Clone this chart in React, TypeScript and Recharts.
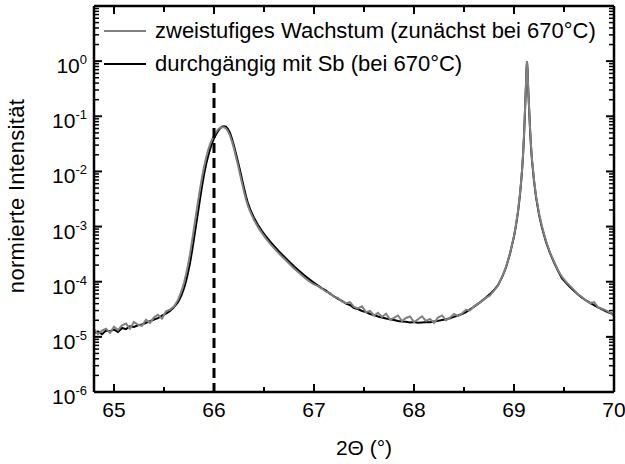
import React from 'react';
import { LineChart, Line, XAxis, YAxis, ReferenceLine, Legend, Label } from 'recharts';

// 2Θ positions (°)
const twoTheta = [
  64.80, 64.84, 64.88, 64.92, 64.96, 65.00, 65.04, 65.08, 65.12, 65.16, 65.20, 65.24, 65.28, 65.32, 65.36, 65.40, 65.44, 65.48, 65.52, 65.56, 65.60, 65.64,
  65.66, 65.68, 65.70, 65.72, 65.74, 65.76, 65.78, 65.80, 65.82, 65.84, 65.86, 65.88, 65.90, 65.92, 65.94, 65.96, 65.98, 66.00, 66.02, 66.04, 66.06, 66.08, 66.10, 66.12, 66.14, 66.16, 66.18, 66.20, 66.22, 66.24, 66.26, 66.28, 66.30, 66.32, 66.34, 66.36, 66.38, 66.40,
  66.44, 66.48, 66.52, 66.56, 66.60, 66.65, 66.70, 66.75, 66.80, 66.85, 66.90, 66.95, 67.00,
  67.04, 67.08, 67.12, 67.16, 67.20, 67.24, 67.28, 67.32, 67.36, 67.40, 67.44, 67.48, 67.52, 67.56, 67.60, 67.64, 67.68, 67.72, 67.76, 67.80, 67.84, 67.88, 67.92, 67.96, 68.00, 68.04, 68.08, 68.12, 68.16, 68.20, 68.24, 68.28, 68.32, 68.36, 68.40, 68.44, 68.48, 68.52, 68.56, 68.60,
  68.64, 68.68, 68.72, 68.76, 68.80, 68.84, 68.88, 68.92, 68.96, 69.00, 69.02, 69.04, 69.06, 69.07, 69.08, 69.09, 69.10, 69.11, 69.12, 69.125, 69.13, 69.135, 69.14, 69.15, 69.16, 69.17, 69.18, 69.20, 69.22, 69.25, 69.28, 69.32, 69.36, 69.40, 69.44,
  69.48, 69.52, 69.56, 69.60, 69.64, 69.68, 69.72, 69.76, 69.80, 69.84, 69.88, 69.92, 69.96, 70.00,
];

// zweistufiges Wachstum (grey)
const zweistufig = [
  1.38e-5, 1.12e-5, 1.30e-5, 1.41e-5, 1.18e-5, 1.52e-5, 1.33e-5, 1.62e-5, 1.74e-5, 1.40e-5, 1.86e-5, 1.66e-5, 1.58e-5, 2.04e-5, 1.78e-5, 2.26e-5, 2.52e-5, 2.14e-5, 2.90e-5, 3.12e-5, 3.56e-5, 4.68e-5,
  5.75e-5, 7.24e-5, 9.55e-5, 1.35e-4, 2.00e-4, 3.16e-4, 5.37e-4, 9.33e-4, 1.62e-3, 2.82e-3, 4.79e-3, 7.76e-3, 1.20e-2, 1.74e-2, 2.40e-2, 3.09e-2, 3.80e-2, 4.47e-2, 5.13e-2, 5.75e-2, 6.17e-2, 6.31e-2, 6.31e-2, 6.03e-2, 5.37e-2, 4.47e-2, 3.47e-2, 2.57e-2, 1.82e-2, 1.29e-2, 8.91e-3, 6.17e-3, 4.27e-3, 3.09e-3, 2.34e-3, 1.91e-3, 1.58e-3, 1.32e-3,
  9.77e-4, 7.59e-4, 6.03e-4, 4.90e-4, 4.07e-4, 3.24e-4, 2.63e-4, 2.14e-4, 1.74e-4, 1.45e-4, 1.20e-4, 1.02e-4, 8.91e-5,
  8.32e-5, 7.44e-5, 6.61e-5, 6.26e-5, 5.31e-5, 5.07e-5, 4.37e-5, 4.07e-5, 4.27e-5, 3.48e-5, 3.29e-5, 3.57e-5, 2.81e-5, 2.96e-5, 2.44e-5, 2.72e-5, 2.30e-5, 2.63e-5, 2.06e-5, 2.21e-5, 2.44e-5, 1.94e-5, 2.20e-5, 2.34e-5, 1.86e-5, 2.09e-5, 2.36e-5, 1.94e-5, 2.12e-5, 1.79e-5, 2.24e-5, 2.45e-5, 2.01e-5, 2.23e-5, 2.59e-5, 2.38e-5, 2.65e-5, 3.09e-5, 3.02e-5, 3.58e-5,
  4.01e-5, 4.47e-5, 5.11e-5, 5.63e-5, 6.92e-5, 8.52e-5, 1.22e-4, 1.85e-4, 3.27e-4, 6.72e-4, 1.10e-3, 1.91e-3, 3.98e-3, 6.31e-3, 1.05e-2, 2.00e-2, 4.57e-2, 1.32e-1, 3.98e-1, 7.24e-1, 1.0, 7.24e-1, 3.98e-1, 1.58e-1, 6.31e-2, 2.95e-2, 1.66e-2, 7.08e-3, 3.63e-3, 1.74e-3, 1.00e-3, 5.50e-4, 3.39e-4, 2.34e-4, 1.62e-4,
  1.23e-4, 1.00e-4, 8.41e-5, 7.11e-5, 5.91e-5, 5.29e-5, 4.51e-5, 4.10e-5, 4.27e-5, 3.46e-5, 3.23e-5, 3.03e-5, 2.76e-5, 2.40e-5,
];

// durchgängig mit Sb (black)
const durchgaengig = [
  1.17e-5, 1.26e-5, 1.12e-5, 1.30e-5, 1.27e-5, 1.35e-5, 1.23e-5, 1.45e-5, 1.38e-5, 1.56e-5, 1.51e-5, 1.62e-5, 1.68e-5, 1.80e-5, 1.92e-5, 2.06e-5, 2.19e-5, 2.43e-5, 2.63e-5, 2.96e-5, 3.47e-5, 4.27e-5,
  5.01e-5, 6.03e-5, 7.59e-5, 1.02e-4, 1.45e-4, 2.19e-4, 3.55e-4, 6.03e-4, 1.05e-3, 1.82e-3, 3.16e-3, 5.37e-3, 8.71e-3, 1.32e-2, 1.86e-2, 2.51e-2, 3.24e-2, 3.98e-2, 4.68e-2, 5.37e-2, 6.03e-2, 6.46e-2, 6.61e-2, 6.46e-2, 5.89e-2, 5.01e-2, 3.89e-2, 2.88e-2, 2.09e-2, 1.48e-2, 1.05e-2, 7.24e-3, 5.01e-3, 3.55e-3, 2.63e-3, 2.09e-3, 1.74e-3, 1.45e-3,
  1.07e-3, 8.32e-4, 6.61e-4, 5.37e-4, 4.47e-4, 3.55e-4, 2.88e-4, 2.34e-4, 1.91e-4, 1.58e-4, 1.32e-4, 1.12e-4, 9.55e-5,
  8.51e-5, 7.61e-5, 6.88e-5, 6.05e-5, 5.40e-5, 4.87e-5, 4.48e-5, 4.00e-5, 3.78e-5, 3.34e-5, 3.19e-5, 2.95e-5, 2.82e-5, 2.60e-5, 2.49e-5, 2.34e-5, 2.25e-5, 2.15e-5, 2.09e-5, 2.02e-5, 1.94e-5, 1.90e-5, 1.88e-5, 1.82e-5, 1.85e-5, 1.80e-5, 1.83e-5, 1.86e-5, 1.84e-5, 1.90e-5, 1.95e-5, 2.02e-5, 2.09e-5, 2.18e-5, 2.30e-5, 2.44e-5, 2.60e-5, 2.82e-5, 3.15e-5, 3.52e-5,
  3.97e-5, 4.50e-5, 5.15e-5, 5.96e-5, 7.06e-5, 8.63e-5, 1.20e-4, 1.81e-4, 3.21e-4, 6.61e-4, 1.05e-3, 1.82e-3, 3.80e-3, 6.03e-3, 1.00e-2, 1.91e-2, 4.37e-2, 1.26e-1, 3.80e-1, 7.08e-1, 9.77e-1, 7.08e-1, 3.80e-1, 1.51e-1, 6.03e-2, 2.82e-2, 1.58e-2, 6.76e-3, 3.47e-3, 1.66e-3, 9.55e-4, 5.25e-4, 3.31e-4, 2.24e-4, 1.58e-4,
  1.15e-4, 9.55e-5, 8.04e-5, 6.82e-5, 5.85e-5, 5.15e-5, 4.57e-5, 4.12e-5, 3.75e-5, 3.42e-5, 3.15e-5, 2.91e-5, 2.71e-5, 2.55e-5,
];

const seriesNames = ['zweistufiges Wachstum (zunächst bei 670°C)', 'durchgängig mit Sb (bei 670°C)'];
const seriesColors = ['#808080', '#000000'];

const xMajorTicks = [65, 66, 67, 68, 69, 70];
const xMinorTicks = [65.5, 66.5, 67.5, 68.5, 69.5];
const yMajorTicks = [1e-6, 1e-5, 1e-4, 1e-3, 1e-2, 1e-1, 1];
const yMajorExponents = ['-6', '-5', '-4', '-3', '-2', '-1', '0'];
const yMinorTicks = [
  2e-6, 3e-6, 4e-6, 5e-6, 6e-6, 7e-6, 8e-6, 9e-6,
  2e-5, 3e-5, 4e-5, 5e-5, 6e-5, 7e-5, 8e-5, 9e-5,
  2e-4, 3e-4, 4e-4, 5e-4, 6e-4, 7e-4, 8e-4, 9e-4,
  2e-3, 3e-3, 4e-3, 5e-3, 6e-3, 7e-3, 8e-3, 9e-3,
  2e-2, 3e-2, 4e-2, 5e-2, 6e-2, 7e-2, 8e-2, 9e-2,
  0.2, 0.3, 0.4, 0.5, 0.6, 0.7, 0.8, 0.9,
  2, 3, 4, 5, 6, 7, 8, 9,
];
const xDomain = [64.8, 70];
const yDomain = [1e-6, 10];
const dashedMarkerX = 66;
const dashedMarkerTop = 0.4;

const xLabel = '2Θ (°)';
const yLabel = 'normierte Intensität';

const FONT = '"Liberation Sans", Arial, Helvetica, sans-serif';

const data = twoTheta.map((x, i) => ({ x, zweistufig: zweistufig[i], durchgaengig: durchgaengig[i] }));

const MAJOR = 8;
const MINOR = 5;

const BottomTick = (props: any) => {
  const { x, y, payload } = props;
  const v = payload.value;
  const major = xMajorTicks.indexOf(v) >= 0;
  return (
    <g>
      <line x1={x} x2={x} y1={y} y2={y - (major ? MAJOR : MINOR)} stroke="#000" strokeWidth={2} />
      {major && (
        <text x={x} y={y + 25} textAnchor="middle" fontSize={21} fontFamily={FONT} fill="#000">
          {String(v)}
        </text>
      )}
      {v === xMajorTicks[2] + 0.5 && (
        <text x={x} y={y + 63} textAnchor="middle" fontSize={21} fontFamily={FONT} fill="#000">
          {xLabel}
        </text>
      )}
    </g>
  );
};

const TopTick = (props: any) => {
  const { x, y, payload } = props;
  const major = xMajorTicks.indexOf(payload.value) >= 0;
  return <line x1={x} x2={x} y1={y} y2={y + (major ? MAJOR : MINOR + 1)} stroke="#000" strokeWidth={2} />;
};

const LeftTick = (props: any) => {
  const { x, y, payload } = props;
  const idx = yMajorTicks.indexOf(payload.value);
  const major = idx >= 0;
  return (
    <g>
      <line x1={x} x2={x + (major ? MAJOR : MINOR)} y1={y} y2={y} stroke="#000" strokeWidth={major ? 2 : 1.5} />
      {major && (
        <text x={x - 7} y={y + 12} textAnchor="end" fontSize={21} fontFamily={FONT} fill="#000">
          <tspan>10</tspan>
          <tspan dy={-9} fontSize={13}>{yMajorExponents[idx]}</tspan>
        </text>
      )}
    </g>
  );
};

const RightTick = (props: any) => {
  const { x, y, payload } = props;
  const major = yMajorTicks.indexOf(payload.value) >= 0;
  return <line x1={x} x2={x - (major ? MAJOR : MINOR)} y1={y} y2={y} stroke="#000" strokeWidth={major ? 2 : 1.5} />;
};

const renderLegend = () => (
  <div style={{ fontFamily: FONT, fontSize: 22, color: '#000', whiteSpace: 'nowrap' }}>
    {seriesNames.map((name, i) => (
      <div key={name} style={{ display: 'flex', alignItems: 'center', height: 33 }}>
        <svg width={42} height={4} style={{ display: 'block' }}>
          <line x1={0} x2={42} y1={2} y2={2} stroke={seriesColors[i]} strokeWidth={2} />
        </svg>
        <span style={{ marginLeft: 9 }}>{name}</span>
      </div>
    ))}
  </div>
);

const axisLineStyle = { stroke: '#000', strokeWidth: 2.5 };

export default function App() {
  return (
    <div style={{ position: 'absolute', left: 0, top: 0, width: 625, height: 464, background: '#fff' }}>
      <LineChart width={625} height={464} data={data} margin={{ top: 5, right: 10, bottom: 71, left: 93 }}>
        <XAxis
          xAxisId="b"
          dataKey="x"
          type="number"
          domain={xDomain}
          allowDataOverflow
          ticks={[...xMajorTicks, ...xMinorTicks]}
          interval={0}
          height={1}
          tickSize={0}
          tickMargin={0}
          tickLine={false}
          axisLine={axisLineStyle}
          tick={(p: any) => <BottomTick {...p} />}
        />
        <XAxis
          xAxisId="t"
          orientation="top"
          dataKey="x"
          type="number"
          domain={xDomain}
          allowDataOverflow
          ticks={[...xMajorTicks, ...xMinorTicks]}
          interval={0}
          height={1}
          tickSize={0}
          tickMargin={0}
          tickLine={false}
          axisLine={axisLineStyle}
          tick={(p: any) => <TopTick {...p} />}
        />
        <YAxis
          yAxisId="l"
          type="number"
          scale="log"
          domain={yDomain}
          allowDataOverflow
          ticks={[...yMajorTicks, ...yMinorTicks]}
          interval={0}
          width={1}
          tickSize={0}
          tickMargin={0}
          tickLine={false}
          axisLine={axisLineStyle}
          tick={(p: any) => <LeftTick {...p} />}
        >
          <Label
            content={(p: any) => {
              const vb = p.viewBox || { x: 93, y: 6, width: 1, height: 386 };
              const cx = vb.x + vb.width - 70;
              const cy = vb.y + vb.height / 2 - 3;
              return (
                <text transform={`translate(${cx},${cy}) rotate(-90)`} textAnchor="middle" fontSize={22} letterSpacing={0.3} fontFamily={FONT} fill="#000">
                  {yLabel}
                </text>
              );
            }}
          />
        </YAxis>
        <YAxis
          yAxisId="r"
          orientation="right"
          type="number"
          scale="log"
          domain={yDomain}
          allowDataOverflow
          ticks={[...yMajorTicks, ...yMinorTicks]}
          interval={0}
          width={1}
          tickSize={0}
          tickMargin={0}
          tickLine={false}
          axisLine={axisLineStyle}
          tick={(p: any) => <RightTick {...p} />}
        />
        <Legend
          layout="vertical"
          align="center"
          verticalAlign="middle"
          content={renderLegend}
          wrapperStyle={{ position: 'absolute', left: 104, top: 14, width: 'auto', height: 'auto' }}
        />
        <Line
          xAxisId="b"
          yAxisId="l"
          dataKey="durchgaengig"
          name={seriesNames[1]}
          stroke={seriesColors[1]}
          strokeWidth={2}
          dot={false}
          type="linear"
          isAnimationActive={false}
        />
        <Line
          xAxisId="b"
          yAxisId="l"
          dataKey="zweistufig"
          name={seriesNames[0]}
          stroke={seriesColors[0]}
          strokeWidth={2}
          dot={false}
          type="linear"
          isAnimationActive={false}
        />
        <ReferenceLine
          xAxisId="b"
          yAxisId="l"
          segment={[{ x: dashedMarkerX, y: dashedMarkerTop }, { x: dashedMarkerX, y: yDomain[0] }]}
          stroke="#000"
          strokeWidth={3}
          strokeDasharray="10 5"
        />
      </LineChart>
    </div>
  );
}
